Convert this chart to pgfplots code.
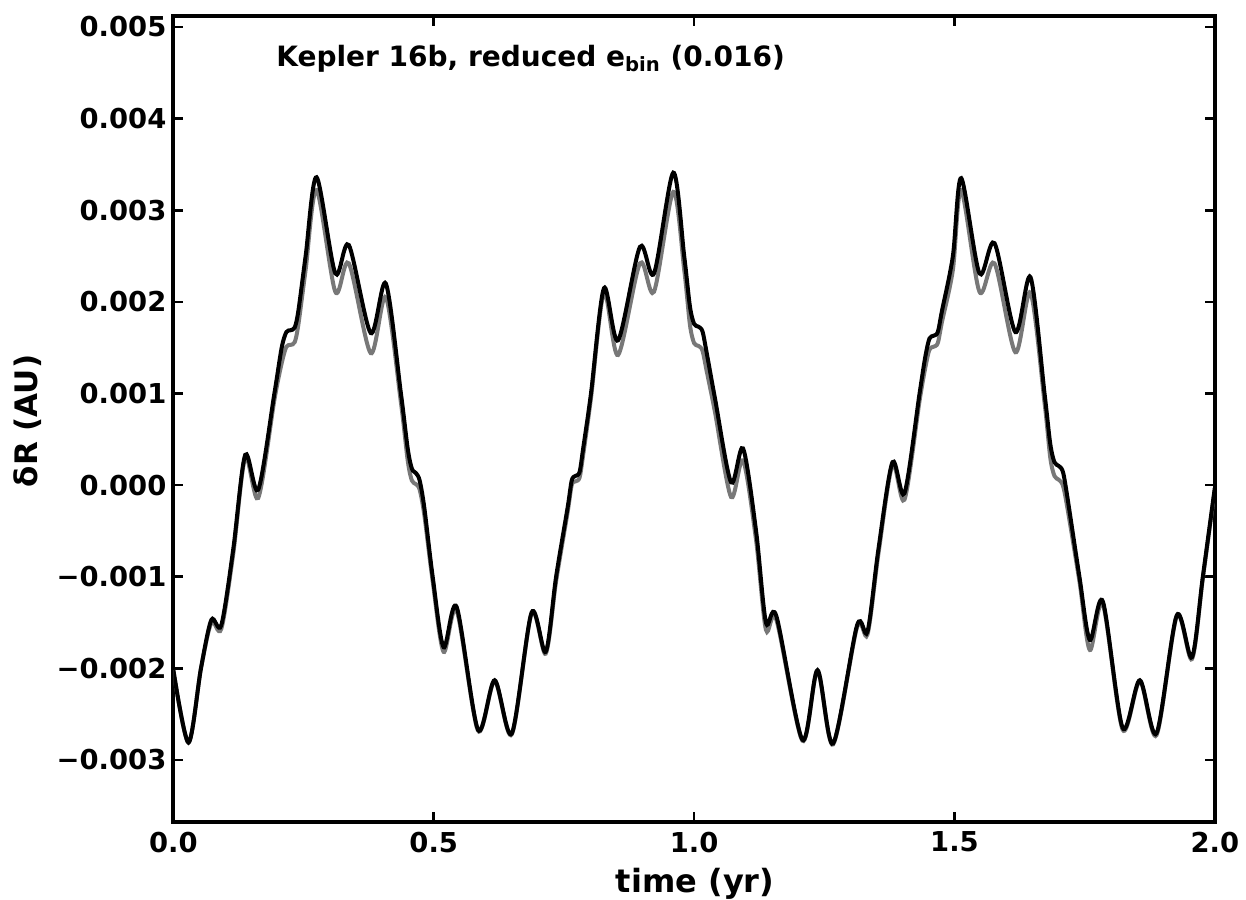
\documentclass[border=0pt]{standalone}
\usepackage{fontspec}
\setmainfont{DejaVu Sans}
\usepackage{pgfplots}
\usepackage{pgfplotstable}
\pgfplotsset{compat=1.18}
\definecolor{graycurve}{RGB}{120,120,120}

\pgfplotstableread{
t y
0.000 -2.02
0.029 -2.81
0.053 -2.00
0.073 -1.47
0.092 -1.53
0.115 -0.70
0.138 0.33
0.163 -0.05
0.194 1.00
0.208 1.50
0.217 1.67
0.225 1.69
0.233 1.72
0.240 1.90
0.254 2.50
0.275 3.36
0.311 2.31
0.337 2.62
0.379 1.66
0.408 2.20
0.437 1.00
0.450 0.40
0.458 0.18
0.466 0.13
0.473 0.05
0.482 -0.25
0.498 -1.00
0.519 -1.77
0.544 -1.33
0.585 -2.67
0.617 -2.13
0.650 -2.71
0.688 -1.39
0.715 -1.82
0.735 -1.00
0.757 -0.25
0.765 0.05
0.772 0.10
0.780 0.14
0.787 0.40
0.802 1.00
0.827 2.15
0.854 1.58
0.896 2.60
0.923 2.31
0.960 3.41
0.981 2.50
0.992 1.95
1.000 1.76
1.008 1.73
1.016 1.68
1.024 1.45
1.040 0.95
1.071 0.03
1.094 0.40
1.119 -0.50
1.138 -1.50
1.158 -1.43
1.208 -2.78
1.237 -2.02
1.267 -2.82
1.313 -1.53
1.333 -1.60
1.354 -0.70
1.381 0.25
1.404 -0.09
1.433 1.00
1.444 1.40
1.452 1.60
1.460 1.63
1.468 1.67
1.476 1.90
1.497 2.50
1.513 3.35
1.548 2.31
1.577 2.64
1.617 1.67
1.646 2.27
1.673 1.00
1.684 0.45
1.692 0.25
1.700 0.21
1.708 0.15
1.716 -0.10
1.740 -1.00
1.760 -1.69
1.785 -1.27
1.823 -2.65
1.856 -2.13
1.888 -2.71
1.927 -1.42
1.956 -1.88
1.977 -1.00
2.000 -0.03
}\blackdata

\pgfplotstableread{
t y
0.000 -2.02
0.029 -2.81
0.053 -2.00
0.073 -1.50
0.092 -1.57
0.115 -0.75
0.138 0.30
0.163 -0.14
0.194 0.93
0.208 1.33
0.217 1.51
0.225 1.53
0.233 1.56
0.240 1.75
0.254 2.35
0.275 3.22
0.311 2.11
0.337 2.42
0.379 1.44
0.408 2.05
0.437 0.90
0.450 0.27
0.458 0.05
0.466 0.01
0.473 -0.05
0.482 -0.33
0.498 -1.05
0.519 -1.82
0.544 -1.37
0.585 -2.68
0.617 -2.14
0.650 -2.72
0.688 -1.40
0.715 -1.84
0.735 -1.05
0.757 -0.30
0.765 0.00
0.772 0.04
0.780 0.08
0.787 0.33
0.802 0.95
0.827 2.10
0.854 1.42
0.896 2.42
0.923 2.11
0.960 3.20
0.981 2.35
0.992 1.75
1.000 1.55
1.008 1.52
1.016 1.47
1.024 1.25
1.040 0.80
1.071 -0.13
1.094 0.27
1.119 -0.60
1.138 -1.58
1.158 -1.47
1.208 -2.79
1.237 -2.03
1.267 -2.83
1.313 -1.55
1.333 -1.63
1.354 -0.75
1.381 0.22
1.404 -0.16
1.433 0.92
1.444 1.28
1.452 1.48
1.460 1.51
1.468 1.55
1.476 1.78
1.497 2.35
1.513 3.22
1.548 2.11
1.577 2.42
1.617 1.45
1.646 2.10
1.673 0.90
1.684 0.30
1.692 0.10
1.700 0.06
1.708 0.00
1.716 -0.22
1.740 -1.05
1.760 -1.80
1.785 -1.30
1.823 -2.67
1.856 -2.14
1.888 -2.73
1.927 -1.43
1.956 -1.90
1.977 -1.02
2.000 -0.05
}\graydata

\begin{document}
\begin{tikzpicture}
\useasboundingbox (-86.7pt,-39pt) rectangle (536.4pt,411pt);
\begin{axis}[
  scale only axis, width=520.8pt, height=403pt,
  at={(0,0)}, anchor=south west,
  xmin=0, xmax=2, ymin=-3.676, ymax=5.12,
  xtick={0,0.5,1,1.5,2}, xticklabels={0.0,0.5,1.0,1.5,2.0},
  ytick={-3,-2,-1,0,1,2,3,4,5},
  yticklabels={−0.003,−0.002,−0.001,0.000,0.001,0.002,0.003,0.004,0.005},
  tick align=inside, major tick length=5pt,
  every tick/.style={black, line width=1.3pt},
  axis line style={line width=2pt},
  ticklabel style={font=\fontsize{13.7}{16}\selectfont\bfseries},
  xticklabel style={yshift=-1.5pt},
  xlabel={time (yr)}, ylabel={δR (AU)},
  xlabel style={font=\fontsize{16}{18}\selectfont\bfseries, at={(axis description cs:0.501,-0.088)}, anchor=base},
  ylabel style={font=\fontsize{15.5}{18}\selectfont\bfseries, at={(axis description cs:-0.1395,0.4975)}, anchor=center},
]
\addplot[graycurve, line width=2pt, smooth] table[x=t,y=y] {\graydata};
\addplot[black, line width=2pt, smooth] table[x=t,y=y] {\blackdata};
\node[anchor=base west, inner sep=0pt, font=\fontsize{14}{16}\selectfont\bfseries] at (axis cs:0.197,4.57) {Kepler 16b, reduced e\textsubscript{bin} (0.016)};
\end{axis}
\end{tikzpicture}
\end{document}
